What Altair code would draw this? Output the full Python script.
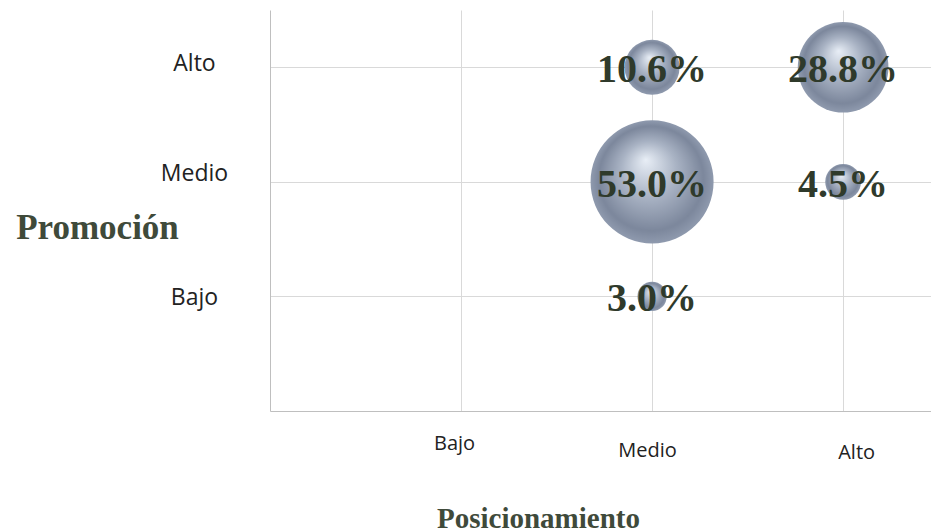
import altair as alt
import pandas as pd

niveles = ["Bajo", "Medio", "Alto"]
posicionamiento = ["Medio", "Alto", "Medio", "Alto", "Medio"]
promocion = ["Alto", "Alto", "Medio", "Medio", "Bajo"]
porcentaje = [10.6, 28.8, 53.0, 4.5, 3.0]

pos_num = {n: i + 1 for i, n in enumerate(niveles)}
df = pd.DataFrame({
    "Posicionamiento": posicionamiento,
    "Promocion": promocion,
    "x": [pos_num[p] for p in posicionamiento],
    "y": [pos_num[p] for p in promocion],
    "pct": porcentaje,
})
df["label"] = df["pct"].map(lambda v: f"{v:.1f}%")

label_expr = "datum.value == 1 ? 'Bajo' : datum.value == 2 ? 'Medio' : datum.value == 3 ? 'Alto' : ''"

sphere = {
    "gradient": "radial",
    "x1": 0.45, "y1": 0.32, "r1": 0.0,
    "x2": 0.5, "y2": 0.5, "r2": 0.5,
    "stops": [
        {"offset": 0.0, "color": "#e8eef6"},
        {"offset": 0.45, "color": "#a9b3c4"},
        {"offset": 0.85, "color": "#7c879c"},
        {"offset": 1.0, "color": "#8f9aae"},
    ],
}

x_enc = alt.X(
    "x:Q",
    scale=alt.Scale(domain=[0, 3.46], nice=False, zero=True),
    axis=alt.Axis(
        values=[1, 2, 3], labelExpr=label_expr, ticks=False, tickSize=0,
        grid=True, gridColor="#d9d9d9", domainColor="#bfbfbf",
        labelFont="Open Sans", labelFontSize=20, labelColor="#222222",
        labelPadding=alt.ExprRef(expr="datum.value == 1 ? 38 : datum.value == 2 ? 45 : 47"),
        labelOffset=alt.ExprRef(expr="datum.value == 1 ? -7 : datum.value == 2 ? -5 : 13"),
        labelBaseline="alphabetic",
        title="Posicionamiento", titleFont="Liberation Serif", titleFontSize=29,
        titleFontWeight="bold", titleColor="#3f4a3a",
        titleX=268, titleY=116, titleBaseline="alphabetic", titleAlign="center",
    ),
)
y_enc = alt.Y(
    "y:Q",
    scale=alt.Scale(domain=[0, 3.5], nice=False, zero=True),
    axis=alt.Axis(
        values=[1, 2, 3], labelExpr=label_expr, ticks=False, tickSize=0,
        grid=True, gridColor="#d9d9d9", domainColor="#bfbfbf",
        labelFont="Open Sans", labelFontSize=23, labelColor="#222222",
        labelPadding=76, labelAlign="center", labelBaseline="middle",
        labelOffset=alt.ExprRef(expr="datum.value == 1 ? 1 : datum.value == 2 ? -8 : -4"),
        title="Promoción", titleFont="Liberation Serif", titleFontSize=35,
        titleFontWeight="bold", titleColor="#3f4a3a", titleAngle=0,
        titleX=-173, titleY=228, titleBaseline="alphabetic", titleAlign="center",
    ),
)

bubbles = alt.Chart(df).mark_circle(opacity=1, color=sphere).encode(
    x=x_enc,
    y=y_enc,
    size=alt.Size("pct:Q", scale=alt.Scale(domain=[0, 53], range=[0, 15129], zero=True), legend=None),
)

labels = alt.Chart(df).mark_text(
    font="Liberation Serif", fontSize=40, fontWeight="bold", color="#2f3a2b",
    baseline="middle", dy=3,
).encode(
    x=alt.X("x:Q"),
    y=alt.Y("y:Q"),
    text="label:N",
)

chart = alt.layer(bubbles, labels).properties(
    width=661, height=401,
    padding={"left": 270, "top": 10, "right": 0, "bottom": 121},
    autosize=alt.AutoSizeParams(type="none"),
    background="white",
).configure_view(stroke=None)

chart.save("out.html", embed_options={"renderer": "svg", "actions": False})
